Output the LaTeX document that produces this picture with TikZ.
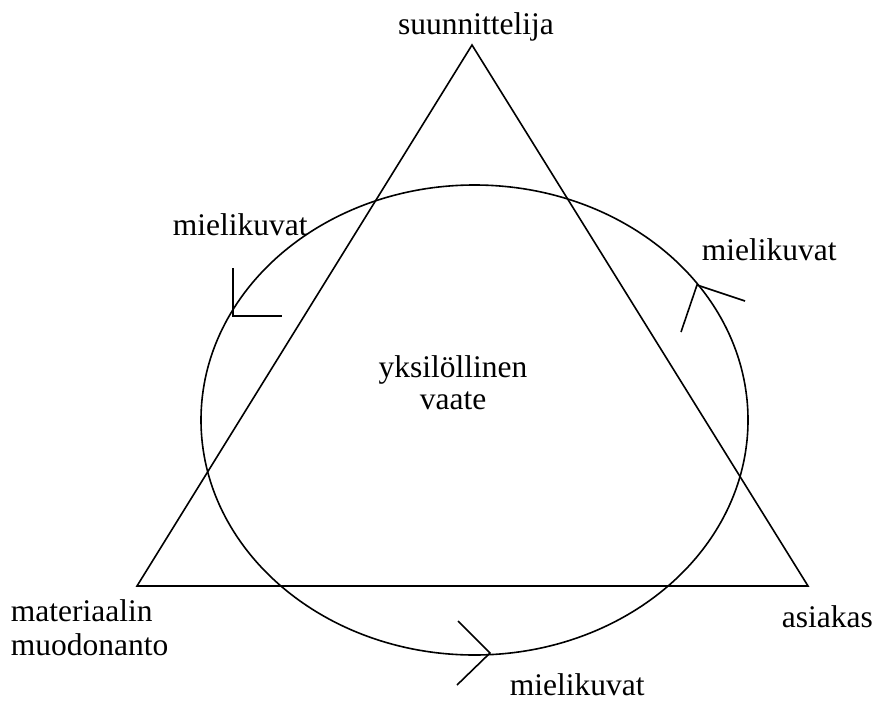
\documentclass[tikz,border=0pt]{standalone}
\usepackage{fontspec}
\setmainfont{Liberation Serif}
\begin{document}
\begin{tikzpicture}[x=1pt,y=-1pt,
  line width=1.6pt,
  lbl/.style={font=\fontsize{31.5}{34}\selectfont, inner sep=0pt, anchor=base west},
  lblc/.style={font=\fontsize{31.5}{34}\selectfont, inner sep=0pt, anchor=base}]
\useasboundingbox (0,0) rectangle (874,701);
% triangle
\coordinate (top) at (472,45);
\coordinate (bl) at (137,586);
\coordinate (br) at (808,586);
\draw[line join=miter] (top) -- (bl) -- (br) -- cycle;
% ellipse
\coordinate (c) at (474.5,420);
\draw (c) ellipse [x radius=273.5, y radius=235];
% arrow marks
\coordinate (lv) at (233,316);
\coordinate (la) at (233,268);
\coordinate (lb) at (282,316);
\draw (la) -- (lv) -- (lb);
\coordinate (rv) at (697,285);
\coordinate (ra) at (745,301);
\coordinate (rb) at (681,332);
\draw (ra) -- (rv) -- (rb);
\coordinate (bv) at (490,653);
\coordinate (ba) at (458,621);
\coordinate (bb) at (457,685);
\draw (ba) -- (bv) -- (bb);
% labels
\node[lblc] (suun) at (476,35) {suunnittelija};
\node[lbl] (m1) at (172,235) {mielikuvat};
\node[lbl] (m2) at (701,260) {mielikuvat};
\node[lblc] (yks) at (453,377) {yksilöllinen};
\node[lblc] (vaate) at (453,409) {vaate};
\node[lbl] (mat) at (10,621) {materiaalin};
\node[lbl] (muo) at (10,655) {muodonanto};
\node[lbl] (asi) at (781,627) {asiakas};
\node[lbl] (m3) at (509,695) {mielikuvat};
\end{tikzpicture}
\end{document}
